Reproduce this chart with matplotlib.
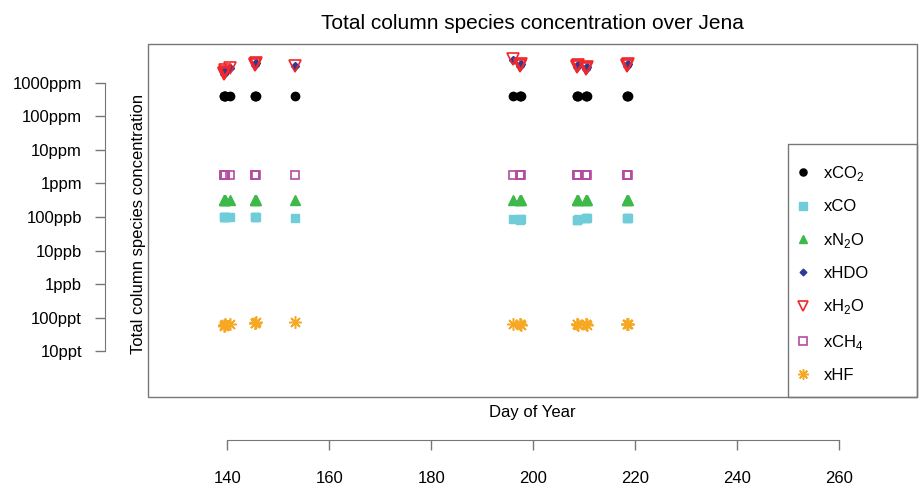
import numpy as np
import matplotlib
matplotlib.use("Agg")
from matplotlib import pyplot as plt
from matplotlib.patches import Rectangle

plt.rcParams['font.family'] = ['Liberation Sans', 'DejaVu Sans']
plt.rcParams['mathtext.fontset'] = 'custom'
plt.rcParams['mathtext.rm'] = 'Liberation Sans'

# measurements (day of year) and species values
days = [139.3, 139.4, 139.5, 139.6, 140.5,
        145.3, 145.4, 145.5,
        153.2,
        196.0, 197.3, 197.4, 197.5,
        208.5, 208.6, 208.7,
        210.3, 210.4, 210.5,
        218.3, 218.4, 218.5]
co2_ppm = [404, 405, 406, 405, 406, 405, 406, 405, 406, 406, 405,
           406, 405, 405, 406, 405, 406, 405, 406, 405, 406, 405]
co_ppb = [102, 100, 98, 99, 97, 101, 100, 99, 92, 88, 84,
          85, 86, 82, 84, 86, 92, 94, 93, 91, 92, 93]
n2o_ppb = [320, 322, 321, 320, 319, 322, 321, 320, 318, 320, 321,
           322, 320, 321, 320, 322, 321, 320, 322, 321, 320, 322]
hdo_ppm = [1800, 2000, 2200, 2500, 2800, 3500, 3700, 3900, 3200, 5000, 3300,
           3500, 3700, 3000, 3200, 3400, 2700, 2900, 3100, 3300, 3500, 3700]
h2o_ppm = [1800, 2000, 2200, 2500, 2800, 3500, 3700, 3900, 3200, 5300, 3300,
           3500, 3700, 3000, 3200, 3400, 2700, 2900, 3100, 3300, 3500, 3700]
ch4_ppm = [1.80, 1.81, 1.80, 1.79, 1.81, 1.80, 1.81, 1.80, 1.82, 1.80, 1.81,
           1.80, 1.81, 1.80, 1.81, 1.80, 1.81, 1.80, 1.81, 1.80, 1.81, 1.80]
hf_ppt = [56, 60, 63, 58, 62, 68, 70, 72, 72, 66, 62,
          64, 60, 62, 64, 60, 62, 64, 61, 63, 62, 64]

ytick_vals = [1e-11, 1e-10, 1e-9, 1e-8, 1e-7, 1e-6, 1e-5, 1e-4, 1e-3]
ytick_labels = ['10ppt', '100ppt', '1ppb', '10ppb', '100ppb',
                '1ppm', '10ppm', '100ppm', '1000ppm']
xticks = [140, 160, 180, 200, 220, 240, 260]

ppm, ppb, ppt = 1e-6, 1e-9, 1e-12
d = np.array(days)

fig = plt.figure(figsize=(9.23, 4.87), dpi=100)
ax = fig.add_axes([148/923, 1-397/487, (917-148)/923, (397-44)/487])

ax.plot(d, np.array(co2_ppm)*ppm, 'o', color='black', ms=6, label='xCO$_2$')
ax.plot(d, np.array(co_ppb)*ppb, 's', color='#6ECDD9', ms=6, label='xCO')
ax.plot(d, np.array(n2o_ppb)*ppb, '^', color='#3DB94A', ms=7, label='xN$_2$O')
ax.plot(d, np.array(hdo_ppm)*ppm, 'D', color='#2E3A97', ms=4, label='xHDO')
ax.plot(d, np.array(h2o_ppm)*ppm, 'v', color='#F0282C', mfc='none', mew=1.2, ms=9, label='xH$_2$O')
ax.plot(d, np.array(ch4_ppm)*ppm, 's', color='#B44CA0', mfc='none', mew=1.2, ms=6, label='xCH$_4$')
ax.plot(d, np.array(hf_ppt)*ppt, marker=(8, 2, 0), ls='none', color='#F7A823', mew=1.1, ms=9, label='xHF')

ax.set_yscale('log')
ax.set_xlim(124.4, 275.3)
ax.set_ylim(10**-12.373, 10**-1.836)
ax.minorticks_off()

for s in ['top', 'right']:
    ax.spines[s].set_visible(False)
ax.spines['left'].set_position(('outward', 31))
ax.spines['left'].set_bounds(1e-11, 1e-3)
ax.spines['bottom'].set_position(('outward', 31))
ax.spines['bottom'].set_bounds(140, 260)
for s in ['left', 'bottom']:
    ax.spines[s].set_color('#777777')

ax.set_yticks(ytick_vals)
ax.set_yticklabels(ytick_labels)
ax.set_xticks(xticks)
ax.tick_params(axis='both', colors='#777777', labelcolor='black', labelsize=12, length=7.5, width=1)
ax.tick_params(axis='y', pad=9)
ax.tick_params(axis='x', pad=15)

ax.add_patch(Rectangle((0, 0), 1, 1, transform=ax.transAxes, fill=False,
                       edgecolor='#777777', lw=1, clip_on=False))

ax.set_title('Total column species concentration over Jena', fontsize=15, pad=11)
ax.set_ylabel('Total column species concentration', fontsize=12)
ax.yaxis.set_label_coords(-0.003, 0.49)
ax.set_xlabel('Day of Year', fontsize=12)
ax.xaxis.set_label_coords(0.5, -0.023)

# legend box
lx = (788-148)/769
ly = (397-144)/353
ax.add_patch(Rectangle((lx, 0), 1-lx, ly, transform=ax.transAxes, fill=False,
                       edgecolor='#777777', lw=1, clip_on=False))
leg = ax.legend(loc='upper left', bbox_to_anchor=(lx - 1.6/769, ly - 11.7/353), frameon=False,
                fontsize=12, labelspacing=0.98, borderaxespad=0, borderpad=0.5,
                handlelength=1.0, handletextpad=0.72, markerscale=0.85)

fig.savefig('out.png', dpi=100)
